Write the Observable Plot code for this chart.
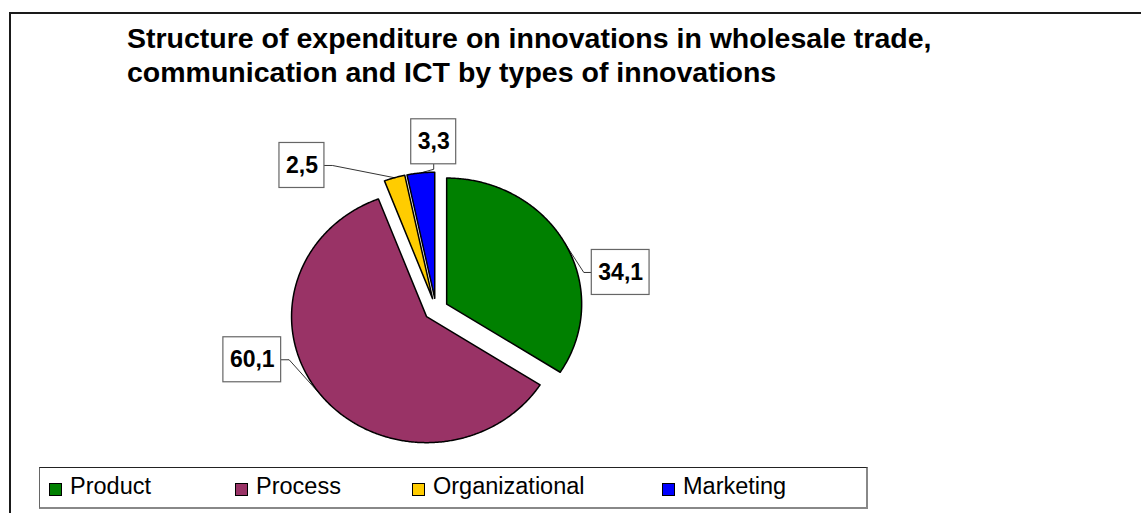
<!DOCTYPE html>
<html>
<head>
<meta charset="utf-8">
<script src="https://cdn.jsdelivr.net/npm/d3@7"></script>
<script src="https://cdn.jsdelivr.net/npm/@observablehq/plot@0.6"></script>
<style>
html, body { margin: 0; padding: 0; background: #fff; overflow: hidden; width: 1141px; height: 513px; }
body { position: relative; font-family: "Liberation Sans", Arial, sans-serif; color: #000; }
#frame { position: absolute; left: 9px; top: 12px; width: 1200px; height: 600px; border: 2px solid #1a1a1a; }
#title { position: absolute; left: 127px; top: 20.7px; font-weight: bold; font-size: 28.5px; line-height: 34px; white-space: nowrap; }
#chart { position: absolute; left: 0; top: 100px; }
#legend { position: absolute; left: 39px; top: 467px; width: 826px; height: 39px;
  border-top: 1px solid #222; border-left: 1px solid #666; border-right: 2px solid #888; border-bottom: 2px solid #888; background: #fff; }
.sw { position: absolute; top: 15px; width: 11px; height: 11px; border: 1px solid #000; }
.lt { position: absolute; top: 7px; font-size: 23.5px; line-height: 23.5px; white-space: nowrap; }
</style>
</head>
<body>
<div id="frame"></div>
<div id="title"></div>
<div id="chart"></div>
<div id="legend"></div>
<script>
// ---- data ----
const titleLines = ["Structure of expenditure on innovations in wholesale trade,", "communication and ICT by types of innovations"];
const types = ["Product", "Process", "Organizational", "Marketing"];
const shares = [34.1, 60.1, 2.5, 3.3];
const valueLabels = ["34,1", "60,1", "2,5", "3,3"];
const colors = ["#008000", "#993366", "#FFCC00", "#0000FF"];

// ---- layout ----
const W = 1141, H = 365;
const pie = { cx: 435.5, cy: 209, rx: 135, ry: 126, explode: 0.09 };
const labelAnchor = [[1.368, 0.294], [-1.361, -0.399], [-0.993, 1.143], [-0.017, 1.331]]; // unit offsets from pie centre
const labelFont = 23, boxPad = 13, boxH = 45;
const legendLefts = [9, 195, 372, 622];
const fontFamily = '"Liberation Sans", Arial, sans-serif';

// title
document.getElementById("title").innerHTML = titleLines.join("<br>");

// slices
const total = d3.sum(shares);
let acc = 0;
const slices = types.map((t, i) => {
  const a0 = acc / total * 2 * Math.PI; acc += shares[i];
  const a1 = acc / total * 2 * Math.PI; const am = (a0 + a1) / 2;
  return { type: t, a0, a1, am, ox: pie.explode * Math.sin(am), oy: pie.explode * Math.cos(am) };
});
const points = [];
for (const s of slices) {
  points.push({ type: s.type, x: s.ox, y: s.oy });
  const n = Math.max(4, Math.ceil((s.a1 - s.a0) / (Math.PI / 360)));
  for (let k = 0; k <= n; k++) {
    const a = s.a0 + (s.a1 - s.a0) * k / n;
    points.push({ type: s.type, x: s.ox + Math.sin(a), y: s.oy + Math.cos(a) });
  }
  points.push({ type: s.type, x: s.ox, y: s.oy });
}

// label boxes & leaders
const ctx = document.createElement("canvas").getContext("2d");
ctx.font = `bold ${labelFont}px ${fontFamily}`;
const boxes = [], leaders = [];
slices.forEach((s, i) => {
  const [ux, uy] = labelAnchor[i];
  const bw = ctx.measureText(valueLabels[i]).width + boxPad;
  const x1 = ux - bw / 2 / pie.rx, x2 = ux + bw / 2 / pie.rx;
  const y1 = uy - boxH / 2 / pie.ry, y2 = uy + boxH / 2 / pie.ry;
  boxes.push({ x1, x2, y1, y2, x: ux, y: uy, text: valueLabels[i] });
  const tx = s.ox + Math.sin(s.am), ty = s.oy + Math.cos(s.am);
  let p0, p1;
  if (tx < x1) { p0 = [x1, uy]; p1 = [x1 - 8 / pie.rx, uy]; }
  else if (tx > x2) { p0 = [x2, uy]; p1 = [x2 + 8 / pie.rx, uy]; }
  else if (ty < y1) { p0 = [ux, y1]; p1 = [ux, y1 - 5 / pie.ry]; }
  else { p0 = [ux, y2]; p1 = [ux, y2 + 5 / pie.ry]; }
  [p0, p1, [tx, ty]].forEach(p => leaders.push({ k: i, x: p[0], y: p[1] }));
});

const chart = Plot.plot({
  width: W, height: H, margin: 0,
  x: { domain: [-pie.cx / pie.rx, (W - pie.cx) / pie.rx], range: [0, W], axis: null },
  y: { domain: [-(H - pie.cy) / pie.ry, pie.cy / pie.ry], range: [H, 0], axis: null },
  color: { domain: types, range: colors },
  style: { background: "transparent", fontFamily },
  marks: [
    Plot.line(points, { x: "x", y: "y", z: "type", fill: "type", stroke: "#000", strokeWidth: 1.5, strokeLinejoin: "round", curve: "linear" }),
    Plot.line(leaders, { x: "x", y: "y", z: "k", stroke: "#000", strokeWidth: 0.8, curve: "linear" }),
    Plot.rect(boxes, { x1: "x1", x2: "x2", y1: "y1", y2: "y2", fill: "#fff", stroke: "#666", strokeWidth: 1.2 }),
    Plot.text(boxes, { x: "x", y: "y", text: "text", fontSize: labelFont, fontWeight: "bold", fontFamily, fill: "#000" })
  ]
});
document.getElementById("chart").appendChild(chart);

// legend
const legend = document.getElementById("legend");
types.forEach((t, i) => {
  const sw = document.createElement("div");
  sw.className = "sw"; sw.style.left = legendLefts[i] + "px"; sw.style.background = colors[i];
  const lt = document.createElement("div");
  lt.className = "lt"; lt.style.left = (legendLefts[i] + 21) + "px"; lt.textContent = t;
  legend.appendChild(sw); legend.appendChild(lt);
});
</script>
</body>
</html>
